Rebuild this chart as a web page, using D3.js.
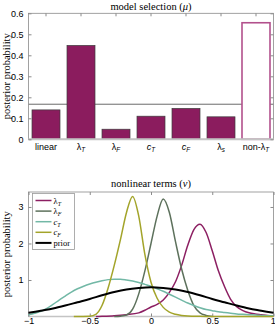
<!DOCTYPE html>
<html>
<head>
<meta charset="utf-8">
<style>
  body { margin: 0; background: #fff; color: #000; }
  svg { font-family: 'Liberation Serif', 'DejaVu Serif', serif; color: #000; }
  .tick text { fill: #000; font-size: 9px; }
</style>
</head>
<body>
<svg width="275" height="328"></svg>
<script src="https://d3js.org/d3.v7.min.js"></script>
<script>
// ---------- data: model selection ----------
const models = ["linear", "lT", "lF", "cT", "cF", "ls", "nonlT"];
const modelProb = [0.14, 0.447, 0.048, 0.11, 0.147, 0.107, 0.555];
const uniformLevel = 0.167;
const probTicks = [0, 0.1, 0.2, 0.3, 0.4, 0.5, 0.6];

// ---------- data: nonlinear terms ----------
const lambdaT_x = [-0.45, -0.4, -0.3, -0.2, -0.1, -0.05, 0, 0.05, 0.1, 0.15, 0.2, 0.25, 0.3, 0.35, 0.4, 0.45, 0.5, 0.55, 0.6, 0.65, 0.7, 0.75, 0.8, 0.85, 0.9, 0.95, 1.0];
const lambdaT_y = [0, 0.005, 0.02, 0.05, 0.1, 0.17, 0.26, 0.33, 0.45, 0.66, 0.95, 1.4, 1.95, 2.38, 2.53, 2.3, 1.8, 1.25, 0.82, 0.47, 0.27, 0.16, 0.1, 0.07, 0.05, 0.03, 0.02];

const lambdaF_x = [-0.3, -0.25, -0.2, -0.15, -0.1, -0.05, 0, 0.05, 0.1, 0.15, 0.2, 0.25, 0.3, 0.35, 0.4, 0.45, 0.5];
const lambdaF_y = [0, 0.01, 0.04, 0.2, 0.62, 1.25, 2.0, 2.75, 3.22, 2.85, 2.05, 1.3, 0.72, 0.3, 0.1, 0.03, 0];

const cT_x = [-1, -0.95, -0.9, -0.85, -0.8, -0.75, -0.7, -0.65, -0.6, -0.55, -0.5, -0.45, -0.4, -0.35, -0.3, -0.25, -0.2, -0.15, -0.1, -0.05, 0, 0.05, 0.1, 0.15, 0.2, 0.25, 0.3, 0.35, 0.4, 0.45, 0.5, 0.55, 0.6, 0.65, 0.7, 0.75, 0.8, 0.85, 0.9, 0.95, 1];
const cT_y = [0.05, 0.09, 0.14, 0.22, 0.33, 0.45, 0.56, 0.67, 0.76, 0.83, 0.89, 0.94, 0.98, 1.01, 1.02, 1.02, 1.0, 0.97, 0.93, 0.88, 0.83, 0.76, 0.69, 0.61, 0.53, 0.45, 0.37, 0.3, 0.24, 0.19, 0.16, 0.13, 0.11, 0.09, 0.07, 0.06, 0.05, 0.04, 0.03, 0.02, 0.02];

const cF_x = [-0.63, -0.5, -0.45, -0.4, -0.35, -0.3, -0.25, -0.2, -0.15, -0.1, -0.05, 0, 0.05, 0.1, 0.15, 0.2, 0.25, 0.3, 0.4, 0.5, 1.0];
const cF_y = [0, 0.01, 0.06, 0.3, 0.78, 1.4, 2.1, 2.85, 3.29, 2.75, 1.7, 0.94, 0.5, 0.25, 0.12, 0.06, 0.03, 0.015, 0.005, 0, 0];

const prior_x = [-1, -0.9, -0.8, -0.7, -0.6, -0.5, -0.4, -0.3, -0.2, -0.1, 0, 0.1, 0.2, 0.3, 0.4, 0.5, 0.6, 0.7, 0.8, 0.9, 1];
const prior_y = [0.1, 0.16, 0.22, 0.3, 0.39, 0.48, 0.58, 0.67, 0.74, 0.78, 0.8, 0.78, 0.74, 0.67, 0.58, 0.48, 0.39, 0.3, 0.22, 0.16, 0.1];

const nuTicks = [-1, -0.5, 0, 0.5, 1];
const densTicks = [1, 2, 3];

const series = [
  {key: "lT", xs: lambdaT_x, ys: lambdaT_y, color: "#8c1f62", w: 1.5},
  {key: "lF", xs: lambdaF_x, ys: lambdaF_y, color: "#5d715c", w: 1.5},
  {key: "cT", xs: cT_x, ys: cT_y, color: "#72b8a6", w: 1.5},
  {key: "cF", xs: cF_x, ys: cF_y, color: "#a3a42a", w: 1.5},
  {key: "prior", xs: prior_x, ys: prior_y, color: "#000", w: 2}
];

// label pieces: [main, subscript, mainItalic]
const labelParts = {
  linear: ["linear", "", false],
  lT: ["λ", "T", false],
  lF: ["λ", "F", false],
  cT: ["c", "T", true],
  cF: ["c", "F", true],
  ls: ["λ", "s", false],
  nonlT: ["non-λ", "T", false],
  prior: ["prior", "", false]
};

function writeLabel(sel, key, size) {
  const p = labelParts[key];
  sel.text(null).attr("fill", "#000");
  sel.append("tspan").text(p[0]).attr("fill", "#000").attr("font-style", p[2] ? "italic" : null);
  if (p[1]) {
    sel.append("tspan").text(p[1])
      .attr("fill", "#000")
      .attr("font-style", "italic")
      .attr("font-size", size * 0.7)
      .attr("dy", size * 0.25);
  }
}

const svg = d3.select("svg");
const frameColor = "#8a8a8a";
const L = 28.5, R = 273.5;

// ---------------- top: model selection ----------------
const mTop = 13.3, mBottom = 139.3;
const xb = d3.scaleBand().domain(models).range([L, R]).paddingInner(0.2).paddingOuter(0.1);
const yb = d3.scaleLinear().domain([0, 0.6]).range([mBottom, mTop]);

const topG = svg.append("g");

topG.append("line")
  .attr("x1", L).attr("x2", R)
  .attr("y1", yb(uniformLevel)).attr("y2", yb(uniformLevel))
  .attr("stroke", "#444").attr("stroke-width", 0.8);

topG.selectAll(".bar")
  .data(models)
  .join("rect")
  .attr("class", "bar")
  .attr("x", d => xb(d))
  .attr("width", xb.bandwidth())
  .attr("y", (d, i) => yb(modelProb[i]))
  .attr("height", (d, i) => yb(0) - yb(modelProb[i]))
  .attr("fill", d => d === "nonlT" ? "#fff" : "#8b1c5e")
  .attr("stroke", d => d === "nonlT" ? "#b2508c" : "#3c3c3c")
  .attr("stroke-width", d => d === "nonlT" ? 1.6 : 0.7);

// frame
topG.append("rect")
  .attr("x", L).attr("y", mTop).attr("width", R - L).attr("height", mBottom - mTop)
  .attr("fill", "none").attr("stroke", frameColor).attr("stroke-width", 0.8);
topG.append("line")
  .attr("x1", L).attr("x2", R).attr("y1", mBottom).attr("y2", mBottom)
  .attr("stroke", "#c4c4c4").attr("stroke-width", 2);

// axes
topG.append("g")
  .attr("transform", `translate(${L},0)`)
  .call(d3.axisLeft(yb).tickValues(probTicks).tickFormat(d => d === 0 ? "0" : d3.format(".1f")(d)).tickSizeInner(-3).tickSizeOuter(0).tickPadding(5));
topG.append("g")
  .attr("transform", `translate(${R},0)`)
  .call(d3.axisRight(yb).tickValues(probTicks).tickFormat("").tickSizeInner(-3).tickSizeOuter(0));
topG.append("g")
  .attr("transform", `translate(0,${mTop})`)
  .call(d3.axisTop(xb).tickFormat("").tickSizeInner(-3).tickSizeOuter(0));
const xAxisTop = topG.append("g")
  .attr("transform", `translate(0,${mBottom})`)
  .call(d3.axisBottom(xb).tickSizeInner(0).tickSizeOuter(0).tickPadding(4));
xAxisTop.selectAll(".tick text").each(function(d) { writeLabel(d3.select(this), d, 9); });

topG.selectAll(".domain").remove();
topG.selectAll(".tick line").attr("stroke", frameColor);
topG.selectAll(".tick text").attr("fill", "#000");

topG.append("text")
  .attr("x", (L + R) / 2).attr("y", 10)
  .attr("text-anchor", "middle").attr("font-size", 10.5).attr("fill", "#000")
  .html('model selection (<tspan font-style="italic">μ</tspan>)');

topG.append("text")
  .attr("transform", `translate(10,${(mTop + mBottom) / 2}) rotate(-90)`)
  .attr("text-anchor", "middle").attr("font-size", 10.5).attr("fill", "#000")
  .text("posterior probability");

// ---------------- bottom: nonlinear terms ----------------
const nTop = 192, nBottom = 316.5;
const xn = d3.scaleLinear().domain([-1, 1]).range([L, R]);
const yn = d3.scaleLinear().domain([0, 3.41]).range([nBottom, nTop]);

const botG = svg.append("g");

botG.append("rect")
  .attr("x", L).attr("y", nTop).attr("width", R - L).attr("height", nBottom - nTop)
  .attr("fill", "none").attr("stroke", frameColor).attr("stroke-width", 0.8);
botG.append("line")
  .attr("x1", L).attr("x2", R).attr("y1", nBottom).attr("y2", nBottom)
  .attr("stroke", "#c4c4c4").attr("stroke-width", 1.5);

botG.append("g")
  .attr("transform", `translate(${L},0)`)
  .call(d3.axisLeft(yn).tickValues(densTicks).tickFormat(d3.format("d")).tickSizeInner(-3).tickSizeOuter(0).tickPadding(5));
botG.append("g")
  .attr("transform", `translate(${R},0)`)
  .call(d3.axisRight(yn).tickValues(densTicks).tickFormat("").tickSizeInner(-3).tickSizeOuter(0));
botG.append("g")
  .attr("transform", `translate(0,${nTop})`)
  .call(d3.axisTop(xn).tickValues(nuTicks).tickFormat("").tickSizeInner(-3).tickSizeOuter(0));
const xAxisBot = botG.append("g")
  .attr("transform", `translate(0,${nBottom})`)
  .call(d3.axisBottom(xn).tickValues(nuTicks).tickFormat(d => d === 0 ? "0" : d3.format("")(d).replace("-", "\u2212")).tickSizeInner(-3).tickSizeOuter(0).tickPadding(1.5));
// keep the last label inside the page
xAxisBot.selectAll(".tick text").filter(d => d === 1).attr("text-anchor", "end").attr("x", 1.8);

botG.selectAll(".domain").remove();
botG.selectAll(".tick line").attr("stroke", frameColor);
botG.selectAll(".tick text").attr("fill", "#000");

const line = d3.line()
  .x(d => xn(d[0]))
  .y(d => yn(d[1]))
  .curve(d3.curveMonotoneX);

botG.selectAll(".curve")
  .data(series)
  .join("path")
  .attr("class", "curve")
  .attr("d", s => line(s.xs.map((x, i) => [x, s.ys[i]])))
  .attr("fill", "none")
  .attr("stroke", s => s.color)
  .attr("stroke-width", s => s.w);

// legend
const lg = botG.append("g").attr("transform", "translate(32.5,193.5)");
lg.append("rect")
  .attr("width", 42).attr("height", 56)
  .attr("fill", "#fff").attr("stroke", "#999").attr("stroke-width", 0.8);
const rows = lg.selectAll(".row")
  .data(series)
  .join("g")
  .attr("class", "row")
  .attr("transform", (s, i) => `translate(0,${7 + i * 10.6})`);
rows.append("line")
  .attr("x1", 3).attr("x2", 19)
  .attr("stroke", s => s.color).attr("stroke-width", s => s.w);
rows.append("text")
  .attr("x", 21).attr("y", 3)
  .attr("font-size", 8.5)
  .each(function(s) { writeLabel(d3.select(this), s.key, 8.5); });

botG.append("text")
  .attr("x", (L + R) / 2).attr("y", 187)
  .attr("text-anchor", "middle").attr("font-size", 10.5).attr("fill", "#000")
  .html('nonlinear terms (<tspan font-style="italic">ν</tspan>)');

botG.append("text")
  .attr("transform", `translate(10,${(nTop + nBottom) / 2}) rotate(-90)`)
  .attr("text-anchor", "middle").attr("font-size", 10.5).attr("fill", "#000")
  .text("posterior probability");
</script>
</body>
</html>
